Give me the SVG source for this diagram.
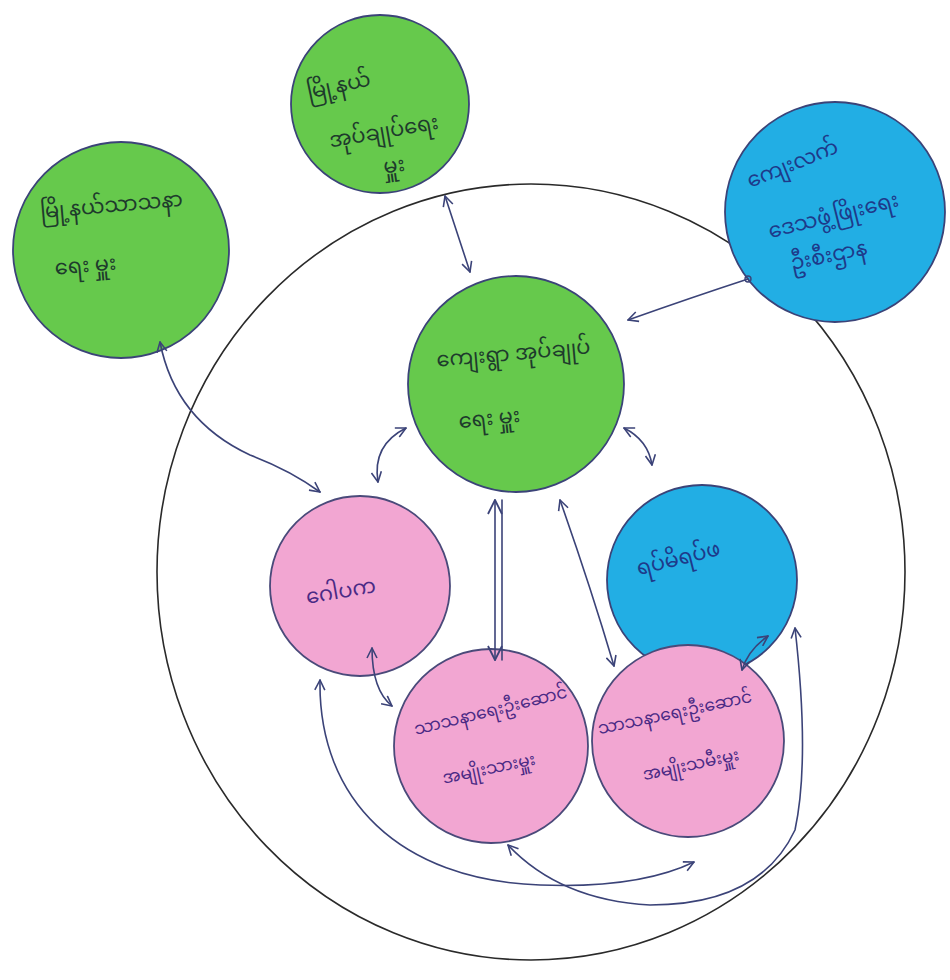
<svg xmlns="http://www.w3.org/2000/svg" width="950" height="980" viewBox="0 0 950 980">
<defs>
<marker id="ah" viewBox="0 0 12 12" refX="11" refY="6" markerWidth="12" markerHeight="12" markerUnits="userSpaceOnUse" orient="auto-start-reverse">
<path d="M1,1 L11,6 L1,11" fill="none" stroke="#3b4378" stroke-width="1.6" stroke-linejoin="round"/>
</marker>
<marker id="ahb" viewBox="0 0 16 16" refX="15" refY="8" markerWidth="16" markerHeight="16" markerUnits="userSpaceOnUse" orient="auto-start-reverse">
<path d="M1,1 L15,8 L1,15" fill="none" stroke="#3b4378" stroke-width="1.8" stroke-linejoin="round"/>
</marker>
</defs>
<style>
.green{fill:#66c94c;stroke:#3b4378;stroke-width:1.8}
.blue{fill:#22aee4;stroke:#3b4378;stroke-width:1.8}
.pink{fill:#f2a6d2;stroke:#4a4a7a;stroke-width:1.8}
.outer{fill:none;stroke:#2a2a2a;stroke-width:1.6}
.t{font-family:"Noto Sans Myanmar","Padauk","Myanmar Text","Noto Sans",sans-serif;font-size:21px;text-anchor:middle}
.s{font-size:17px}
.tg{fill:#1e3b2c}
.tb{fill:#1e3a8a}
.tp{fill:#4b2a85}
.c{fill:none;stroke:#3b4378;stroke-width:1.6;stroke-linecap:round}
</style>
<rect width="950" height="980" fill="#ffffff"/>
<ellipse class="outer" cx="531" cy="572" rx="374" ry="388"/>

<g id="node-township-admin">
<circle class="green" cx="380" cy="104" r="89"/>
<text class="t tg" x="340" y="92" transform="rotate(-12 340 92)">မြို့နယ်</text>
<text class="t tg" x="385" y="138" transform="rotate(-10 385 138)">အုပ်ချုပ်ရေး</text>
<text class="t tg" x="395" y="172" transform="rotate(-8 395 172)">မှူး</text>
</g>

<g id="node-township-religion">
<circle class="green" cx="121" cy="250" r="108"/>
<text class="t tg" x="112" y="212" transform="rotate(-5 112 212)">မြို့နယ်သာသနာ</text>
<text class="t tg" x="86" y="272" transform="rotate(-5 86 272)">ရေး မှူး</text>
</g>

<g id="node-rural-dev">
<circle class="blue" cx="835" cy="212" r="110"/>
<text class="t tb" x="795" y="170" transform="rotate(-22 795 170)">ကျေးလက်</text>
<text class="t tb" x="835" y="222" transform="rotate(-14 835 222)">ဒေသဖွံ့ဖြိုးရေး</text>
<text class="t tb" x="830" y="262" transform="rotate(-12 830 262)">ဦးစီးဌာန</text>
</g>

<g id="node-village-admin">
<circle class="green" cx="516" cy="384" r="108"/>
<text class="t tg" x="514" y="360" transform="rotate(-5 514 360)">ကျေးရွာ အုပ်ချုပ်</text>
<text class="t tg" x="490" y="425" transform="rotate(-6 490 425)">ရေး မှူး</text>
</g>

<g id="node-elders">
<circle class="blue" cx="702" cy="580" r="95"/>
<text class="t tb" x="680" y="565" transform="rotate(-14 680 565)">ရပ်မိရပ်ဖ</text>
</g>

<g id="node-gawpaka">
<circle class="pink" cx="360" cy="586" r="90"/>
<text class="t tp" x="342" y="598" transform="rotate(-10 342 598)">ဂေါပက</text>
</g>

<g id="node-religion-men">
<circle class="pink" cx="491" cy="746" r="97"/>
<text class="t s tp" x="492" y="716" transform="rotate(-14 492 716)">သာသနာရေးဦးဆောင်</text>
<text class="t s tp" x="490" y="774" transform="rotate(-12 490 774)">အမျိုးသားမှူး</text>
</g>

<g id="node-religion-women">
<circle class="pink" cx="688" cy="741" r="96"/>
<text class="t s tp" x="676" y="718" transform="rotate(-12 676 718)">သာသနာရေးဦးဆောင်</text>
<text class="t s tp" x="692" y="770" transform="rotate(-12 692 770)">အမျိုးသမီးမှူး</text>
</g>

<g id="connectors">
<path class="c" d="M445,196 Q458,236 470,272" marker-start="url(#ah)" marker-end="url(#ah)"/>
<path class="c" d="M748,279 Q690,298 628,320" marker-end="url(#ah)"/>
<circle cx="748" cy="279" r="3" fill="none" stroke="#3b4378" stroke-width="1.4"/>
<path class="c" d="M160,342 Q175,420 250,455 Q290,470 320,492" marker-start="url(#ah)" marker-end="url(#ah)"/>
<path class="c" d="M378,482 Q372,445 406,428" marker-start="url(#ah)" marker-end="url(#ah)"/>
<path class="c" d="M624,428 Q648,440 652,465" marker-start="url(#ah)" marker-end="url(#ah)"/>
<path class="c" d="M495,500 L495,660" marker-start="url(#ahb)" marker-end="url(#ahb)"/>
<path class="c" d="M502,500 L502,660"/>
<path class="c" d="M560,500 Q590,585 614,666" marker-start="url(#ah)" marker-end="url(#ah)"/>
<path class="c" d="M768,636 Q748,650 742,670" marker-start="url(#ah)" marker-end="url(#ah)"/>
<path class="c" d="M372,648 Q372,690 392,706" marker-start="url(#ah)" marker-end="url(#ah)"/>
<path class="c" d="M320,680 C318,800 400,880 540,885 C620,888 665,876 694,862" marker-start="url(#ah)" marker-end="url(#ah)"/>
<path class="c" d="M508,845 Q560,900 650,905 Q760,905 795,830 Q810,760 795,628" marker-start="url(#ah)" marker-end="url(#ah)"/>
</g>
</svg>
